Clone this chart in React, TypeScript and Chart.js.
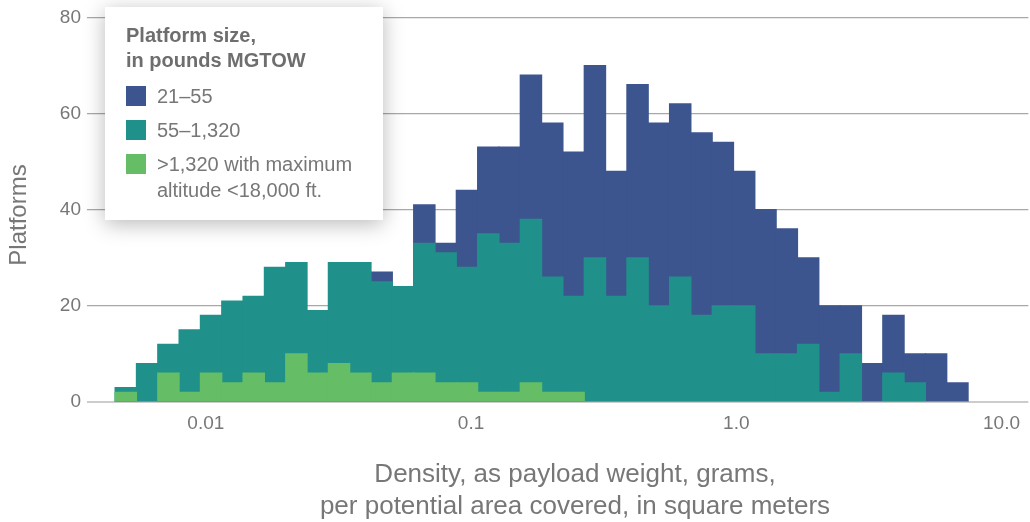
import React, { useEffect, useRef } from "react";
import { Chart, registerables } from "chart.js";

Chart.register(...registerables);

// Histogram bins: log10 of the first bin's lower edge and the bin width (decades)
const FIRST_BIN_LOG = -2.342;
const BIN_WIDTH_LOG = 0.0804;

// Platform counts per density bin, by platform size (MGTOW, pounds)
const size21to55 = [
  0, 0, 0, 0, 0, 0, 0, 0, 0, 0, 0, 0, 27, 0, 41, 33, 44, 53, 53, 68,
  58, 52, 70, 48, 66, 58, 62, 56, 54, 48, 40, 36, 30, 20, 20, 8, 18, 10, 10, 4,
];
const size55to1320 = [
  3, 8, 12, 15, 18, 21, 22, 28, 29, 19, 29, 29, 25, 24, 33, 31, 28, 35, 33, 38,
  26, 22, 30, 22, 30, 20, 26, 18, 20, 20, 10, 10, 12, 2, 10, 0, 6, 4, 0, 0,
];
const sizeOver1320 = [
  2, 0, 6, 2, 6, 4, 6, 4, 10, 6, 8, 6, 4, 6, 6, 4, 4, 2, 2, 4,
  2, 2, 0, 0, 0, 0, 0, 0, 0, 0, 0, 0, 0, 0, 0, 0, 0, 0, 0, 0,
];

// Bin centres on the log10 density axis
const binCenters = size21to55.map((_, i) => FIRST_BIN_LOG + BIN_WIDTH_LOG * (i + 0.5));

const tickValues = [0.01, 0.1, 1, 10];
const tickLabels = ["0.01", "0.1", "1.0", "10.0"];
const yTicks = [0, 20, 40, 60, 80];

const legendTitle = ["Platform size,", "in pounds MGTOW"];
const seriesLabels = [["21–55"], ["55–1,320"], [">1,320 with maximum", "altitude <18,000 ft."]];
const xTitle = ["Density, as payload weight, grams,", "per potential area covered, in square meters"];
const yTitle = "Platforms";

const BLUE = "#3c558e";
const TEAL = "#20918a";
const GREEN = "#65be65";
const TEXT = "#777777";
const FONT = '"Liberation Sans", Arial, sans-serif';

const seriesColors = [BLUE, TEAL, GREEN];

const toPoints = (values: number[]) => values.map((y, i) => ({ x: binCenters[i], y }));

// Draws the axis titles and the boxed legend on top of the chart
const overlayPlugin = {
  id: "overlay",
  afterDraw(chart: any) {
    const ctx: CanvasRenderingContext2D = chart.ctx;
    ctx.save();

    // axis titles
    ctx.fillStyle = TEXT;
    ctx.textAlign = "center";
    ctx.textBaseline = "alphabetic";
    ctx.font = `26px ${FONT}`;
    ctx.fillText(xTitle[0], 575, 481.5);
    ctx.fillText(xTitle[1], 575, 513.5);

    ctx.save();
    ctx.translate(26, 215);
    ctx.rotate(-Math.PI / 2);
    ctx.font = `24px ${FONT}`;
    ctx.fillText(yTitle, 0, 0);
    ctx.restore();

    // legend box with soft shadow
    ctx.save();
    ctx.shadowColor = "rgba(0,0,0,0.28)";
    ctx.shadowBlur = 20;
    ctx.shadowOffsetY = 4;
    ctx.fillStyle = "#ffffff";
    ctx.fillRect(105, 7, 278, 213);
    ctx.restore();

    ctx.textAlign = "left";
    ctx.fillStyle = "#6e6e6e";
    ctx.font = `bold 20px ${FONT}`;
    ctx.fillText(legendTitle[0], 126, 41.5);
    ctx.fillText(legendTitle[1], 126, 67);

    ctx.font = `20px ${FONT}`;
    seriesLabels.forEach((lines, i) => {
      const top = 86 + i * 34;
      ctx.fillStyle = seriesColors[i];
      ctx.fillRect(126, top, 20, 20);
      ctx.fillStyle = TEXT;
      lines.forEach((line, j) => ctx.fillText(line, 157, top + 16.7 + j * 26));
    });

    ctx.restore();
  },
};

export default function App() {
  const canvasRef = useRef<HTMLCanvasElement | null>(null);

  useEffect(() => {
    const canvas = canvasRef.current;
    if (!canvas) return;

    const chart = new Chart(canvas, {
      type: "bar",
      data: {
        datasets: [
          { label: seriesLabels[0].join(" "), data: toPoints(size21to55), backgroundColor: BLUE, order: 3 },
          { label: seriesLabels[1].join(" "), data: toPoints(size55to1320), backgroundColor: TEAL, order: 2 },
          { label: seriesLabels[2].join(" "), data: toPoints(sizeOver1320), backgroundColor: GREEN, order: 1 },
        ],
      },
      options: {
        responsive: false,
        animation: false,
        devicePixelRatio: 1,
        layout: { padding: { top: 17, right: 0, bottom: 0, left: 0 } },
        datasets: {
          bar: {
            grouped: false,
            categoryPercentage: 1,
            barPercentage: 1,
            borderWidth: 0,
            inflateAmount: 0.6,
          },
        },
        plugins: { legend: { display: false }, tooltip: { enabled: false } },
        scales: {
          x: {
            type: "linear",
            min: -2.448,
            max: 1.101,
            offset: false,
            grid: { display: false, drawTicks: false },
            border: { display: false },
            afterBuildTicks: (axis: any) => {
              axis.ticks = tickValues.map((v) => ({ value: Math.log10(v) }));
            },
            ticks: {
              autoSkip: false,
              maxRotation: 0,
              padding: 10,
              color: TEXT,
              font: { family: FONT, size: 19 },
              callback: (value: any) => {
                const idx = tickValues.findIndex((v) => Math.abs(Math.log10(v) - Number(value)) < 1e-6);
                return idx >= 0 ? tickLabels[idx] : "";
              },
            },
            afterFit: (axis: any) => {
              axis.height = 120;
            },
          },
          y: {
            min: 0,
            max: 80,
            afterBuildTicks: (axis: any) => {
              axis.ticks = yTicks.map((v) => ({ value: v }));
            },
            grid: {
              drawTicks: false,
              color: (c: any) => (c.tick && c.tick.value === 0 ? "#cccccc" : "#a8a8a8"),
              lineWidth: (c: any) => (c.tick && c.tick.value === 0 ? 2 : 1.2),
            },
            border: { display: false },
            ticks: {
              padding: 6,
              color: TEXT,
              font: { family: FONT, size: 19 },
            },
            afterFit: (axis: any) => {
              axis.width = 87;
            },
          },
        },
      },
      plugins: [overlayPlugin],
    });

    return () => chart.destroy();
  }, []);

  return (
    <div style={{ position: "absolute", left: 0, top: 0, width: 1030, height: 522 }}>
      <canvas ref={canvasRef} width={1030} height={522} style={{ display: "block", width: 1030, height: 522 }} />
    </div>
  );
}
